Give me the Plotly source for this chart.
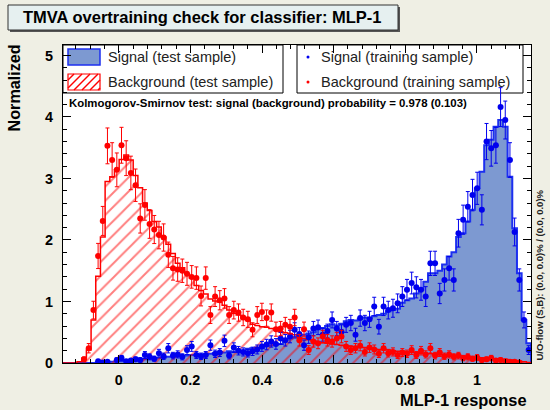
import numpy as np
import plotly.graph_objects as go

# ---------------------------------------------------------------------------
# Histogram binning of the classifier output
# ---------------------------------------------------------------------------
XMIN, XMAX, NBINS = -0.1556, 1.151, 100

# Normalised MLP-1 response, signal test sample (filled histogram)
SIG_TEST = [
    0, 0, 0, 0, 0, 0, 0, 0.01, 0.02, 0.02,
    0.02, 0.03, 0.03, 0.04, 0.04, 0.05, 0.05, 0.06, 0.07, 0.07,
    0.08, 0.09, 0.10, 0.10, 0.11, 0.12, 0.12, 0.13, 0.13, 0.14,
    0.14, 0.15, 0.16, 0.18, 0.17, 0.19, 0.18, 0.20, 0.19, 0.23,
    0.24, 0.25, 0.24, 0.28, 0.29, 0.30, 0.31, 0.38, 0.40, 0.41,
    0.45, 0.46, 0.48, 0.50, 0.55, 0.57, 0.60, 0.63, 0.61, 0.64,
    0.68, 0.70, 0.69, 0.72, 0.74, 0.73, 0.76, 0.78, 0.80, 0.84,
    0.86, 0.88, 0.98, 1.02, 1.05, 1.13, 1.19, 1.32, 1.46, 1.46,
    1.50, 1.60, 1.73, 1.80, 2.05, 2.11, 2.30, 2.49, 2.84, 3.11,
    3.54, 3.63, 3.84, 3.95, 3.84, 3.03, 2.19, 1.46, 0.70, 0.32,
]

# Normalised MLP-1 response, background test sample (hatched histogram)
BKG_TEST = [
    0, 0, 0, 0.02, 0.08, 0.21, 0.70, 1.41, 2.05, 2.95,
    3.03, 3.14, 3.31, 3.38, 3.30, 3.05, 2.85, 2.60, 2.48, 2.30,
    2.21, 2.05, 1.93, 1.78, 1.62, 1.55, 1.45, 1.38, 1.26, 1.18,
    1.12, 1.04, 1.01, 0.99, 0.94, 0.86, 0.81, 0.78, 0.73, 0.69,
    0.63, 0.61, 0.59, 0.58, 0.56, 0.54, 0.51, 0.49, 0.48, 0.46,
    0.42, 0.40, 0.38, 0.36, 0.34, 0.33, 0.32, 0.31, 0.30, 0.29,
    0.28, 0.27, 0.27, 0.26, 0.25, 0.24, 0.23, 0.22, 0.22, 0.21,
    0.20, 0.19, 0.19, 0.18, 0.17, 0.17, 0.16, 0.15, 0.15, 0.14,
    0.13, 0.13, 0.12, 0.11, 0.11, 0.10, 0.10, 0.09, 0.09, 0.08,
    0.08, 0.07, 0.07, 0.06, 0.06, 0.05, 0.04, 0.03, 0.02, 0.01,
]

# Normalised MLP-1 response, signal training sample (points)
SIG_TRAIN = [
    0, 0, 0, 0, 0, 0, 0, 0.03, 0.01, 0.02,
    0, 0.05, 0.08, 0.03, 0.04, 0.06, 0.05, 0.13, 0.10, 0.07,
    0.16, 0.11, 0.24, 0.12, 0.14, 0.10, 0.21, 0.27, 0.13, 0.11,
    0.13, 0.29, 0.15, 0.17, 0.36, 0.12, 0.25, 0.20, 0.18, 0.16,
    0.19, 0.22, 0.27, 0.30, 0.35, 0.31, 0.40, 0.37, 0.43, 0.54,
    0.47, 0.29, 0.42, 0.56, 0.58, 0.46, 0.52, 0.70, 0.56, 0.51,
    0.62, 0.65, 0.46, 0.73, 0.65, 0.71, 0.92, 0.59, 0.92, 0.86,
    0.89, 0.97, 1.08, 1.19, 1.30, 1.23, 1.19, 1.08, 1.62, 1.62,
    1.13, 1.35, 1.54, 1.35, 2.11, 2.33, 2.54, 2.73, 2.84, 2.49,
    3.60, 3.49, 3.54, 4.16, 3.95, 3.30, 2.13, 1.35, 0.70, 0.21,
]

# Normalised MLP-1 response, background training sample (points)
BKG_TRAIN = [
    0, 0, 0, 0, 0.06, 0.24, 0.86, 1.74, 2.31, 3.53,
    3.30, 3.14, 3.54, 3.33, 3.09, 2.89, 2.35, 2.57, 2.26, 2.17,
    2.08, 2.04, 1.76, 1.54, 1.52, 1.50, 1.45, 1.40, 1.38, 1.09,
    1.38, 0.78, 1.08, 1.02, 1.05, 0.78, 0.86, 0.82, 0.74, 0.71,
    0.54, 0.78, 0.83, 0.73, 0.82, 0.55, 0.56, 0.62, 0.59, 0.74,
    0.37, 0.55, 0.21, 0.35, 0.32, 0.43, 0.37, 0.35, 0.40, 0.43,
    0.27, 0.21, 0.24, 0.28, 0.18, 0.25, 0.22, 0.15, 0.24, 0.16,
    0.18, 0.13, 0.17, 0.15, 0.21, 0.13, 0.20, 0.14, 0.24, 0.12,
    0.17, 0.11, 0.14, 0.10, 0.12, 0.08, 0.10, 0.07, 0.09, 0.05,
    0.06, 0.08, 0.04, 0.05, 0.03, 0.02, 0.02, 0.01, 0, 0,
]

# effective entries per unit of normalised height (Poisson error bars)
ENTRIES_PER_UNIT = 41.6

X_TICKS = [0, 0.2, 0.4, 0.6, 0.8, 1.0]
X_TICK_TEXT = ["0", "0.2", "0.4", "0.6", "0.8", "1"]
Y_TICKS = [0, 1, 2, 3, 4, 5]
Y_TICK_TEXT = ["0", "1", "2", "3", "4", "5"]
Y_RANGE = [0, 5.17]

TITLE = "TMVA overtraining check for classifier: MLP-1"
X_TITLE = "MLP-1 response"
Y_TITLE = "Normalized"
KS_TEXT = "Kolmogorov-Smirnov test: signal (background) probability = 0.978 (0.103)"
FLOW_TEXT = "U/O-flow (S,B): (0.0, 0.0)% / (0.0, 0.0)%"
LEGEND_LEFT = ["Signal (test sample)", "Background (test sample)"]
LEGEND_RIGHT = ["Signal (training sample)", "Background (training sample)"]

# ---------------------------------------------------------------------------
# Styling
# ---------------------------------------------------------------------------
W, H = 550, 410
PL, PR, PT, PB = 63, 531, 45, 363          # plot frame in pixels
FONT = "Liberation Sans, Arial, Helvetica, sans-serif"
CANVAS = "#efefe4"
SIG_FILL = "#7d99d1"
SIG_LINE = "#1c2ff0"
SIG_MARK = "#0000ee"
BKG_LINE = "#ff0000"


def px(X):
    return (X - PL) / (PR - PL)


def py(Y):
    return (PB - Y) / (PB - PT)


edges = np.linspace(XMIN, XMAX, NBINS + 1)
centers = 0.5 * (edges[:-1] + edges[1:])


def step_xy(vals):
    xs = [edges[0]] + list(edges[:-1]) + [edges[-1], edges[-1]]
    ys = [0] + list(vals) + [vals[-1], 0]
    return xs, ys


def points(vals):
    v = np.asarray(vals, dtype=float)
    keep = v > 0
    err = np.sqrt(v * ENTRIES_PER_UNIT) / ENTRIES_PER_UNIT
    return centers[keep], v[keep], err[keep]


fig = go.Figure()

# signal test sample: filled step histogram
sx, sy = step_xy(SIG_TEST)
fig.add_trace(go.Scatter(
    x=sx, y=sy, mode="lines", line=dict(color=SIG_LINE, width=2, shape="hv"),
    fill="tozeroy", fillcolor=SIG_FILL, hoverinfo="skip", showlegend=False,
))

# background test sample: hatched step histogram
bx, by = step_xy(BKG_TEST)
fig.add_trace(go.Scatter(
    x=bx, y=by, mode="lines", line=dict(color=BKG_LINE, width=1.5, shape="hv"),
    fill="tozeroy", fillcolor="rgba(0,0,0,0)",
    fillpattern=dict(shape="/", fgcolor=BKG_LINE, bgcolor="rgba(0,0,0,0)",
                     size=10, solidity=0.2),
    hoverinfo="skip", showlegend=False,
))

# training samples: points with Poisson error bars
for vals, col in ((SIG_TRAIN, SIG_MARK), (BKG_TRAIN, BKG_LINE)):
    cx, cy, ce = points(vals)
    fig.add_trace(go.Scatter(
        x=cx, y=cy, mode="markers",
        marker=dict(symbol="circle", size=6, color=col),
        error_y=dict(type="data", array=ce, visible=True, color=col,
                     thickness=1, width=2),
        hoverinfo="skip", showlegend=False,
    ))

shapes = []
annotations = []

# title box with drop shadow
TB = (8, 5, 398, 30)
shapes.append(dict(type="rect", xref="paper", yref="paper",
                   x0=px(TB[0] + 2), x1=px(TB[2] + 2), y0=py(TB[3] + 2), y1=py(TB[1] + 2),
                   line=dict(width=0), fillcolor="#555555", layer="above"))
shapes.append(dict(type="rect", xref="paper", yref="paper",
                   x0=px(TB[0]), x1=px(TB[2]), y0=py(TB[3]), y1=py(TB[1]),
                   line=dict(width=1, color="#333333"), fillcolor="#e6f0f0", layer="above"))
annotations.append(dict(text=TITLE, xref="paper", yref="paper", x=px(21), y=py(17.5),
                        xanchor="left", yanchor="middle", showarrow=False,
                        font=dict(family=FONT, size=16.5, color="black", weight="bold")))

# legend boxes
for (x0, x1) in ((63, 283), (297, 523)):
    shapes.append(dict(type="rect", xref="paper", yref="paper",
                       x0=px(x0), x1=px(x1), y0=py(93), y1=py(45),
                       line=dict(width=1, color="black"), fillcolor="white", layer="below"))

# legend swatch: signal test
shapes.append(dict(type="rect", xref="paper", yref="paper",
                   x0=px(68), x1=px(100), y0=py(65), y1=py(49),
                   line=dict(width=1.5, color=SIG_LINE), fillcolor=SIG_FILL, layer="below"))
# legend swatch: background test (hatched)
HX0, HY0, HX1, HY1 = 68, 74, 100, 90
shapes.append(dict(type="rect", xref="paper", yref="paper",
                   x0=px(HX0), x1=px(HX1), y0=py(HY1), y1=py(HY0),
                   line=dict(width=1.2, color=BKG_LINE), fillcolor="white", layer="below"))
k = HX0 + HY0 + 6
while k < HX1 + HY1:
    xa = max(HX0, k - HY1)
    xb = min(HX1, k - HY0)
    if xb > xa:
        shapes.append(dict(type="line", xref="paper", yref="paper",
                           x0=px(xa), y0=py(k - xa), x1=px(xb), y1=py(k - xb),
                           line=dict(width=1.5, color=BKG_LINE), layer="below"))
    k += 8

for txt, yy in zip(LEGEND_LEFT, (57, 82)):
    annotations.append(dict(text=txt, xref="paper", yref="paper", x=px(106), y=py(yy),
                            xanchor="left", yanchor="middle", showarrow=False,
                            font=dict(family=FONT, size=14.5, color="#222222")))

for txt, yy, col in zip(LEGEND_RIGHT, (57, 82), (SIG_MARK, BKG_LINE)):
    shapes.append(dict(type="circle", xref="paper", yref="paper",
                       x0=px(306.5), x1=px(309.5), y0=py(yy + 1.5), y1=py(yy - 1.5),
                       line=dict(width=0), fillcolor=col, layer="below"))
    annotations.append(dict(text=txt, xref="paper", yref="paper", x=px(319), y=py(yy),
                            xanchor="left", yanchor="middle", showarrow=False,
                            font=dict(family=FONT, size=14.5, color="#222222")))

# KS test result
annotations.append(dict(text=KS_TEXT, xref="paper", yref="paper", x=px(67), y=py(103),
                        xanchor="left", yanchor="middle", showarrow=False,
                        font=dict(family=FONT, size=11.4, color="black", weight="bold")))

# under/overflow note along the right edge
annotations.append(dict(text=FLOW_TEXT, xref="paper", yref="paper", x=px(539), y=py(363),
                        xanchor="center", yanchor="bottom", textangle=-90, showarrow=False,
                        font=dict(family=FONT, size=9.5, color="#222222", weight="bold")))

# axis titles
annotations.append(dict(text=X_TITLE, xref="paper", yref="paper", x=px(529), y=py(400),
                        xanchor="right", yanchor="middle", showarrow=False,
                        font=dict(family=FONT, size=16.4, color="black", weight="bold")))
annotations.append(dict(text=Y_TITLE, xref="paper", yref="paper", x=px(13), y=py(43),
                        xanchor="center", yanchor="top", textangle=-90, showarrow=False,
                        font=dict(family=FONT, size=16.2, color="black", weight="bold")))

axis_common = dict(
    showgrid=False, zeroline=False, showline=True, linecolor="black", linewidth=1,
    mirror="ticks", ticks="inside", ticklen=8, tickcolor="black", tickwidth=1,
    tickfont=dict(family=FONT, size=14.4, color="black", weight="bold"),
)

fig.update_layout(
    width=W, height=H,
    margin=dict(l=PL, r=W - PR, t=PT, b=H - PB, pad=0),
    paper_bgcolor=CANVAS, plot_bgcolor="white",
    shapes=shapes, annotations=annotations,
    xaxis=dict(range=[XMIN, XMAX], tickmode="array", tickvals=X_TICKS, ticktext=X_TICK_TEXT,
               minor=dict(dtick=0.04, tick0=0, ticks="inside", ticklen=4, tickcolor="black"),
               ticklabelstandoff=4, **axis_common),
    yaxis=dict(range=Y_RANGE, tickmode="array", tickvals=Y_TICKS, ticktext=Y_TICK_TEXT,
               minor=dict(dtick=0.2, tick0=0, ticks="inside", ticklen=4, tickcolor="black"),
               ticklabelstandoff=6, **axis_common),
    showlegend=False,
)

fig.write_html("out.html")
